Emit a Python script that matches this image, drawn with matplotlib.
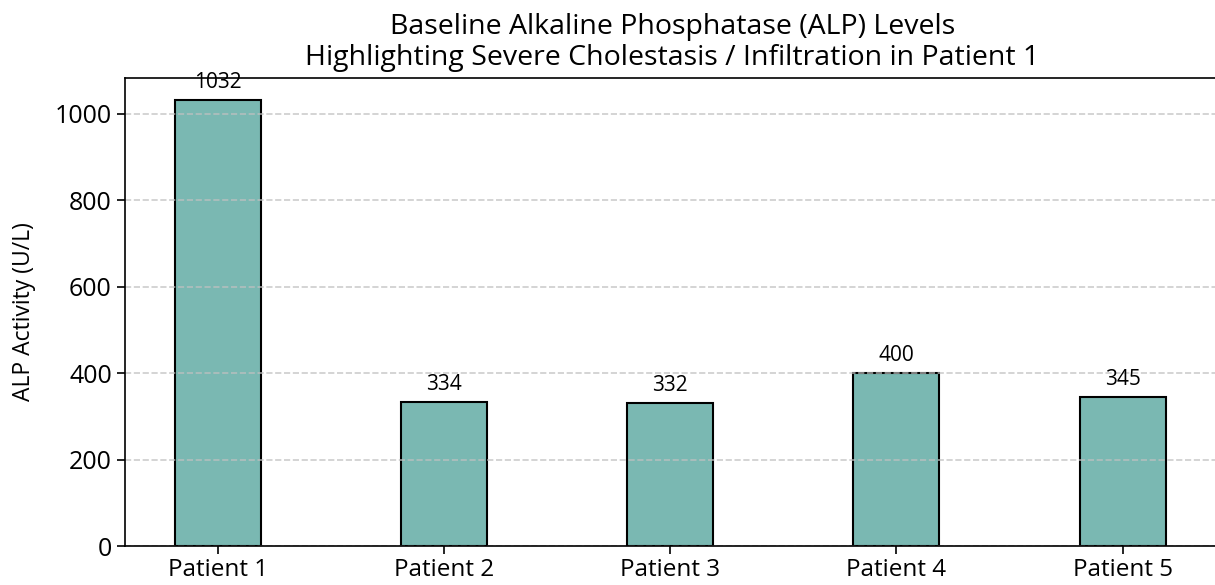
import matplotlib
matplotlib.use("Agg")
import matplotlib.pyplot as plt

patients = ["Patient 1", "Patient 2", "Patient 3", "Patient 4", "Patient 5"]
alp_values = [1032, 334, 332, 400, 345]

plt.rcParams['font.family'] = ['Open Sans', 'DejaVu Sans']

fig = plt.figure(figsize=(12.15, 5.85), dpi=100)
ax = fig.add_axes([125/1215, 39/585, 1095/1215, 468/585])

x = range(len(patients))
bars = ax.bar(x, alp_values, width=0.38, color="#7ab8b2", edgecolor="black", linewidth=1.5, zorder=1)
ax.set_xticks(list(x))
ax.set_xticklabels(patients, fontsize=17.5)
ax.set_xlim(-0.41, 4.43)
ax.set_ylim(0, 1083)
ax.set_yticks([0, 200, 400, 600, 800, 1000])
ax.tick_params(axis='y', labelsize=18, length=6, width=1.2)
ax.tick_params(axis='x', length=6, width=1.2, pad=3)
ax.yaxis.grid(True, linestyle='--', color='#c0c0c0', linewidth=1.2, alpha=0.8, zorder=3)
ax.set_axisbelow(False)
for b in bars:
    b.set_zorder(1)
ax.set_ylabel("ALP Activity (U/L)", fontsize=16.5)
ax.yaxis.set_label_coords(-0.081, 0.5)
for s in ['left', 'bottom', 'top']:
    ax.spines[s].set_linewidth(1.2)
    ax.spines[s].set_zorder(4)
ax.spines['right'].set_visible(False)

for xi, v in zip(x, alp_values):
    ax.annotate(str(v), (xi, v), xytext=(0, 5), textcoords='offset points',
                ha='center', va='bottom', fontsize=15)

ax.set_title("Baseline Alkaline Phosphatase (ALP) Levels\nHighlighting Severe Cholestasis / Infiltration in Patient 1",
             fontsize=20.5, pad=9, linespacing=1.18)

fig.savefig("out.png", dpi=100)
